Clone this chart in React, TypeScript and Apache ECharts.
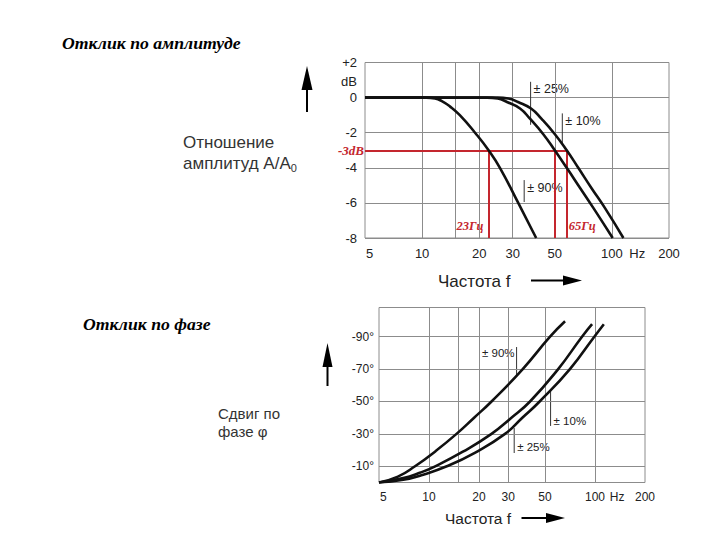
import React, { useEffect, useRef } from 'react';
import * as echarts from 'echarts';

// ---- axes ----
const xGridFreqs = [10, 15, 20, 30, 50, 100];
const xTickFreqs = [5, 10, 20, 30, 50, 100, 200];
const hzTickFreq = 136;
const phaseGridDeg = [-10, -30, -50, -70, -90];

// ---- amplitude response (Hz, dB) ----
const ampFreq90 = [5, 10.5, 11.7, 12.7, 14, 15.8, 19, 22.4, 25.7, 32.1, 39.9];
const ampDb90 = [0, 0, -0.05, -0.2, -0.5, -1, -2, -3.0, -4, -6, -8];
const ampFreq10 = [5, 22, 25, 28, 32.8, 37, 43.6, 50, 57.8, 68, 80, 101];
const ampDb10 = [0, 0, -0.05, -0.25, -0.62, -1.2, -2.1, -3.0, -4.0, -5.15, -6.3, -8];
const ampFreq25 = [5, 25, 28.5, 32, 37.5, 42.5, 50.2, 57.8, 66.5, 78, 92, 115];
const ampDb25 = [0, 0, -0.05, -0.25, -0.62, -1.2, -2.1, -3.0, -4.0, -5.15, -6.3, -8];

// ---- phase response (Hz, degrees) ----
const phaseFreq90 = [5, 6.5, 8.24, 11, 14.65, 18.7, 23.8, 36.7, 53.6, 66];
const phaseDeg90 = [0, -3.6, -10, -19.5, -30, -40, -50, -70, -90, -99.5];
const phaseFreq10 = [5, 7, 8.8, 10.9, 16, 23.8, 31, 40.6, 60, 83.5, 96];
const phaseDeg10 = [0, -2.7, -6, -10, -19, -30, -39.5, -50, -70, -90, -97.7];
const phaseFreq25 = [5, 7, 9, 12.8, 19, 28.7, 36.5, 46.4, 70.6, 99, 113];
const phaseDeg25 = [0, -1.7, -4.5, -10, -18.5, -30, -40, -50, -70, -90, -97.7];

// ---- -3 dB cut-off marks ----
const cutoffDb = -3;
const cutoffFreqs = [22.4, 50, 57.8];
const cutoffLabels = ['23Гц', '65Гц'];

// ---- curve annotations ----
const ampNotes = [
  { text: '± 25%', freq: 37.3, from: 0.9, to: -1.55, at: 0.5 },
  { text: '± 10%', freq: 54.8, from: -0.9, to: -2.6, at: -1.33 },
  { text: '± 90%', freq: 34.5, from: -4.7, to: -5.95, at: -5.13 },
];
const phaseNotes = [
  { text: '± 90%', freq: 33.7, from: -83.6, to: -65.7, at: -79.9, left: true },
  { text: '± 10%', freq: 54, from: -56.5, to: -34.9, at: -38.1, left: false },
  { text: '± 25%', freq: 32.6, from: -33.6, to: -18.2, at: -21.7, left: false },
];

const zip = (xs: number[], ys: number[]) => xs.map((x, i) => [x, ys[i]]);

const GRID_COLOR = '#8c8c8c';
const CURVE_COLOR = '#111';
const RED = '#c4262e';
const SANS = 'Liberation Sans, Arial, sans-serif';
const SERIF = 'Liberation Serif, Times New Roman, serif';

const curve = (data: number[][], gi: number) => ({
  type: 'line',
  xAxisIndex: gi,
  yAxisIndex: gi,
  data,
  symbol: 'none',
  smooth: 0.5,
  z: 5,
  lineStyle: { color: CURVE_COLOR, width: 2.6 },
});

export default function App() {
  const ref = useRef<HTMLDivElement>(null);
  useEffect(() => {
    const chart = echarts.init(ref.current!, null, { renderer: 'svg' });
    const grid0 = { left: 365, top: 62.5, width: 304, height: 175.5 };
    const grid1 = { left: 379, top: 307.5, width: 266, height: 175 };
    const logAxis = (gi: number) => ({
      type: 'log',
      logBase: 10,
      gridIndex: gi,
      min: 5,
      max: 200,
      axisLine: { show: false },
      axisTick: { show: false },
      axisLabel: { show: false },
      splitLine: { show: false },
    });
    const gridMark = (extra: any[]) => ({
      silent: true,
      symbol: ['none', 'none'],
      label: { show: false },
      lineStyle: { color: GRID_COLOR, width: 1, type: 'solid' },
      data: [...xGridFreqs.map((f) => ({ xAxis: f })), ...extra],
    });
    const option: any = {
      animation: false,
      backgroundColor: '#fff',
      grid: [
        { ...grid0, show: true, borderColor: GRID_COLOR, borderWidth: 1 },
        { ...grid1, show: true, borderColor: GRID_COLOR, borderWidth: 1 },
      ],
      xAxis: [logAxis(0), logAxis(1)],
      yAxis: [
        {
          type: 'value',
          gridIndex: 0,
          min: -8,
          max: 2,
          interval: 2,
          axisLine: { show: false },
          axisTick: { show: false },
          axisLabel: {
            margin: 8,
            fontSize: 13,
            color: '#222',
            fontFamily: SANS,
            formatter: (v: number) => (v > 0 ? '+' + v : String(v)),
          },
          splitLine: { show: true, lineStyle: { color: GRID_COLOR, width: 1 } },
        },
        {
          type: 'value',
          gridIndex: 1,
          inverse: true,
          min: -108,
          max: 0,
          axisLine: { show: false },
          axisTick: { show: false },
          axisLabel: { show: false },
          splitLine: { show: false },
        },
      ],
      series: [
        {
          type: 'line',
          xAxisIndex: 0,
          yAxisIndex: 0,
          data: zip(ampFreq90, ampDb90),
          symbol: 'none',
          lineStyle: { opacity: 0 },
          z: 1,
          markLine: gridMark([]),
        },
        {
          type: 'line',
          xAxisIndex: 1,
          yAxisIndex: 1,
          data: zip(phaseFreq90, phaseDeg90),
          symbol: 'none',
          lineStyle: { opacity: 0 },
          z: 1,
          markLine: gridMark(phaseGridDeg.map((d) => ({ yAxis: d }))),
        },
        {
          type: 'line',
          xAxisIndex: 0,
          yAxisIndex: 0,
          data: zip(ampFreq90, ampDb90),
          symbol: 'none',
          lineStyle: { opacity: 0 },
          z: 3,
          markLine: {
            silent: true,
            symbol: ['none', 'none'],
            label: { show: false },
            lineStyle: { color: RED, width: 2, type: 'solid' },
            data: [
              [{ coord: [5, cutoffDb] }, { coord: [Math.max(...cutoffFreqs), cutoffDb] }],
              ...cutoffFreqs.map((f) => [{ coord: [f, cutoffDb] }, { coord: [f, -8] }]),
            ],
          },
        },
        curve(zip(ampFreq90, ampDb90), 0),
        curve(zip(ampFreq10, ampDb10), 0),
        curve(zip(ampFreq25, ampDb25), 0),
        curve(zip(phaseFreq90, phaseDeg90), 1),
        curve(zip(phaseFreq10, phaseDeg10), 1),
        curve(zip(phaseFreq25, phaseDeg25), 1),
      ],
    };
    chart.setOption(option);

    const P = (gi: number, f: number, v: number) =>
      chart.convertToPixel({ xAxisIndex: gi, yAxisIndex: gi } as any, [f, v]) as number[];
    const g: any[] = [];
    const txt = (x: number, y: number, text: string, font: string, fill: string, align = 'left') =>
      g.push({
        type: 'text',
        x,
        y,
        style: { text, font, fill, textAlign: align, textVerticalAlign: 'middle' },
      });
    const seg = (x1: number, y1: number, x2: number, y2: number, stroke: string, w: number) =>
      g.push({ type: 'line', shape: { x1, y1, x2, y2 }, style: { stroke, lineWidth: w } });
    const tri = (pts: number[][]) => g.push({ type: 'polygon', shape: { points: pts }, style: { fill: '#000' } });

    // x tick labels
    const tickRows = [
      { gi: 0, yv: -8, dy: 15, size: 13 },
      { gi: 1, yv: 0, dy: 14, size: 12 },
    ];
    tickRows.forEach(({ gi, yv, dy, size }) => {
      xTickFreqs.forEach((f, i) => {
        const [x, y] = P(gi, f, yv);
        txt(i === 0 ? x + 1 : x, y + dy, String(f), `${size}px ${SANS}`, '#222', i === 0 ? 'left' : 'center');
      });
      const [hx, hy] = P(gi, hzTickFreq, yv);
      txt(hx, hy + dy, 'Hz', `${size}px ${SANS}`, '#222', 'center');
    });
    // phase tick labels
    phaseGridDeg.forEach((d) => {
      const [x, y] = P(1, 5, d);
      txt(x - 5, y, '-' + Math.abs(d) + '°', `12px ${SANS}`, '#222', 'right');
    });
    // dB unit
    {
      const [x, y] = P(0, 5, 0.9);
      txt(x - 8, y, 'dB', `13px ${SANS}`, '#222', 'right');
    }
    // red -3 dB annotations
    {
      const [x, y] = P(0, 5, cutoffDb);
      txt(x - 1, y, '-3dB', `italic bold 13px ${SERIF}`, RED, 'right');
      const [x1, y1] = P(0, cutoffFreqs[0], -7.33);
      txt(x1 - 5, y1, cutoffLabels[0], `italic bold 12.5px ${SERIF}`, RED, 'right');
      const [x2, y2] = P(0, cutoffFreqs[2], -7.33);
      txt(x2 + 2, y2, cutoffLabels[1], `italic bold 12.5px ${SERIF}`, RED, 'left');
    }
    // curve notes
    ampNotes.forEach((n) => {
      const [x, y1] = P(0, n.freq, n.from);
      const [, y2] = P(0, n.freq, n.to);
      const [, yt] = P(0, n.freq, n.at);
      seg(x, y1, x, y2, '#333', 1);
      txt(x + 3, yt, n.text, `12.5px ${SANS}`, '#222', 'left');
    });
    phaseNotes.forEach((n) => {
      const [x, y1] = P(1, n.freq, n.from);
      const [, y2] = P(1, n.freq, n.to);
      const [, yt] = P(1, n.freq, n.at);
      seg(x, y1, x, y2, '#333', 1);
      txt(n.left ? x - 2 : x + 3, yt, n.text, `11.5px ${SANS}`, '#222', n.left ? 'right' : 'left');
    });

    // titles and axis captions
    txt(62, 43, 'Отклик по амплитуде', `italic bold 17.7px ${SERIF}`, '#000');
    txt(83, 324, 'Отклик по фазе', `italic bold 17.7px ${SERIF}`, '#000');
    txt(183, 142, 'Отношение', `17px ${SANS}`, '#333');
    g.push({
      type: 'text',
      x: 183,
      y: 163,
      style: {
        text: '{a|амплитуд A/A}{s|0}',
        textVerticalAlign: 'middle',
        rich: {
          a: { font: `17px ${SANS}`, fill: '#333', color: '#333' },
          s: { font: `11px ${SANS}`, fill: '#333', color: '#333', padding: [9, 0, 0, 0] },
        },
      },
    });
    txt(218, 413, 'Сдвиг по', `15px ${SANS}`, '#333');
    txt(218, 431, 'фазе φ', `15px ${SANS}`, '#333');
    txt(438, 281, 'Частота f', `17px ${SANS}`, '#222');
    txt(445, 518.5, 'Частота f', `15.5px ${SANS}`, '#222');

    // arrows
    seg(307, 88, 307, 112, '#000', 2);
    tri([[301.5, 90], [307, 66], [312.5, 90]]);
    seg(327.5, 365, 327.5, 386, '#000', 2);
    tri([[322.5, 367], [327.5, 343], [332.5, 367]]);
    seg(531, 280.5, 565, 280.5, '#000', 2);
    tri([[563, 275.5], [582, 280.5], [563, 285.5]]);
    seg(521.5, 518, 548, 518, '#000', 2);
    tri([[546, 513], [565, 518], [546, 523]]);

    chart.setOption({ graphic: g });
    return () => chart.dispose();
  }, []);
  return (
    <div
      ref={ref}
      style={{ position: 'fixed', left: 0, top: 0, width: 720, height: 540, background: '#fff' }}
    />
  );
}
